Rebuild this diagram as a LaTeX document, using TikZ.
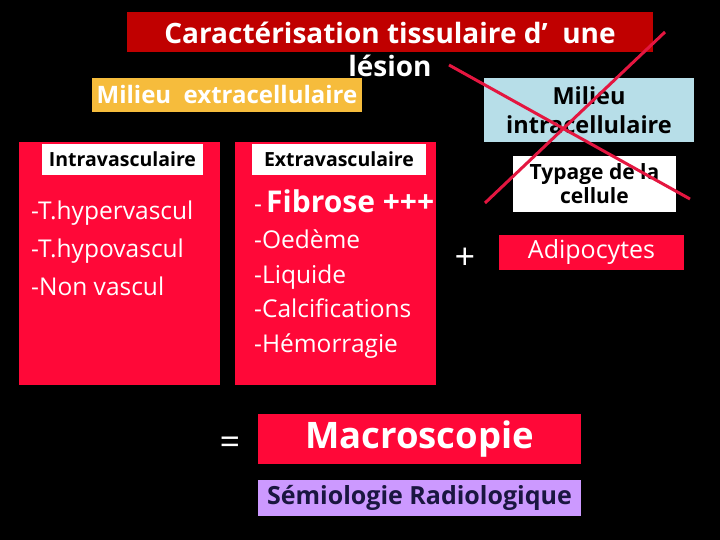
\documentclass[tikz,border=0pt]{standalone}
\usepackage{fontspec}
\setmainfont{Open Sans}
\usetikzlibrary{positioning}
\definecolor{titlered}{RGB}{192,0,0}
\definecolor{boxred}{RGB}{255,8,56}
\definecolor{boxyellow}{RGB}{246,188,60}
\definecolor{boxcyan}{RGB}{183,222,232}
\definecolor{boxlilac}{RGB}{204,153,255}
\definecolor{crossred}{RGB}{228,22,64}
\definecolor{inknavy}{RGB}{26,22,64}

\begin{document}
\begin{tikzpicture}[x=1pt, y=-1pt,
    box/.style={rectangle, inner sep=0pt, align=center},
    label/.style={box, fill=white, text=black, font=\bfseries\fontsize{19.5}{22}\selectfont},
    item/.style={text=white, anchor=base west, inner sep=0pt, font=\fontsize{24.5}{28}\selectfont},
    cross/.style={draw=crossred, line width=3pt}
]
% Background
\fill[black] (0,0) rectangle (720,540);

% Title
\node[box, fill=titlered, minimum width=526pt, minimum height=40pt] (titlebox) at (390,32) {};
\node[box, text=white, font=\bfseries\fontsize{28}{33}\selectfont] (title) at (390,49) {Caractérisation tissulaire d’~ une\\lésion};

% Milieux
\node[box, fill=boxyellow, text=white, minimum width=270pt, minimum height=34pt, font=\bfseries\fontsize{24}{28}\selectfont] (extra) at (227,95) {Milieu~ extracellulaire};
\node[box, fill=boxcyan, text=black, minimum width=210pt, minimum height=64pt, font=\bfseries\fontsize{23.5}{29}\selectfont] (intra) at (589,110) {Milieu\\intracellulaire};

% Columns
\node[box, fill=boxred, minimum width=201pt, minimum height=243pt] (intravasc) at (119.5,263.5) {};
\node[box, fill=boxred, minimum width=201pt, minimum height=243pt] (extravasc) at (335.5,263.5) {};
\node[label, minimum width=161pt, minimum height=31pt] (intralabel) at (122.5,159.5) {Intravasculaire};
\node[label, minimum width=174pt, minimum height=31pt] (extralabel) at (339,159.5) {Extravasculaire};

\node[item] (hyper) at (31,220) {-T.hypervascul};
\node[item] (hypo) at (31,257) {-T.hypovascul};
\node[item] (nonv) at (31,295) {-Non vascul};

\node[item] (fibrose) at (254,213) {-\,\bfseries\fontsize{30}{34}\selectfont Fibrose +++};
\node[item] (oedeme) at (254,248) {-Oedème};
\node[item] (liquide) at (254,283) {-Liquide};
\node[item] (calcif) at (254,317) {-Calcifications};
\node[item] (hemorr) at (254,352) {-Hémorragie};

% Cellule
\node[box, text=white, font=\fontsize{36}{36}\selectfont] (plus) at (465,259) {+};
\node[box, fill=white, text=black, minimum width=163pt, minimum height=56pt, font=\bfseries\fontsize{21}{24}\selectfont] (typage) at (594.5,184) {Typage de la\\cellule};
\node[box, fill=boxred, text=white, minimum width=185pt, minimum height=35pt, font=\fontsize{25}{28}\selectfont] (adipo) at (591.5,252.5) {Adipocytes};

% Cross over intracellulaire
\coordinate (xa) at (449,65);
\coordinate (xb) at (690,199);
\coordinate (xc) at (665,32);
\coordinate (xd) at (485,203);
\draw[cross] (xa) -- (xb);
\draw[cross] (xc) -- (xd);

% Result
\node[box, text=white, font=\fontsize{36}{36}\selectfont] (equal) at (230,446) {=};
\node[box, fill=boxred, text=white, minimum width=323pt, minimum height=50pt, font=\bfseries\fontsize{36.5}{40}\selectfont] (macro) at (419.5,439) {Macroscopie};
\node[box, fill=boxlilac, text=inknavy, minimum width=323pt, minimum height=36pt, font=\bfseries\fontsize{25}{28}\selectfont, below=16pt of macro] (semio) {Sémiologie Radiologique};
\end{tikzpicture}
\end{document}
